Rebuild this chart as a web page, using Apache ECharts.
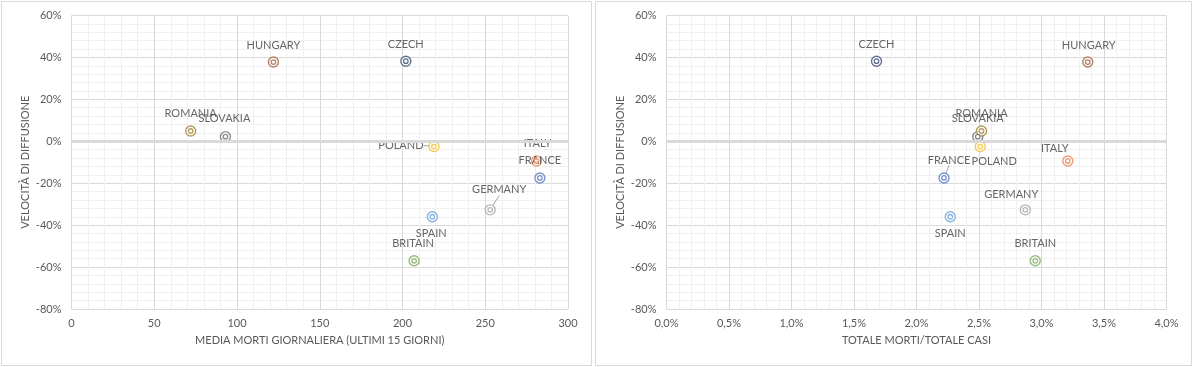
<!DOCTYPE html>
<html>
<head>
<meta charset="utf-8">
<script src="https://cdn.jsdelivr.net/npm/echarts@6/dist/echarts.min.js"></script>
<style>
html,body{margin:0;padding:0;background:#fff;}
#c{width:1194px;height:367px;}
</style>
</head>
<body>
<div id="c"></div>
<script>
// ---- data ----
const countries = ['FRANCE','ITALY','GERMANY','POLAND','SPAIN','BRITAIN','CZECH','HUNGARY','SLOVAKIA','ROMANIA'];
const velocity  = [-0.175, -0.094, -0.327, -0.025, -0.360, -0.570, 0.382, 0.378, 0.022, 0.049];
const avgDeaths = [283, 281, 253, 219, 218, 207, 202, 122, 93, 72];
const deathRate = [0.0222, 0.0321, 0.0287, 0.0251, 0.0227, 0.0295, 0.0168, 0.0337, 0.0249, 0.0252];
const yTicks = [-0.8, -0.6, -0.4, -0.2, 0, 0.2, 0.4, 0.6];
const xTicksLeft = [0, 50, 100, 150, 200, 250, 300];
const xTicksRight = [0, 0.005, 0.01, 0.015, 0.02, 0.025, 0.03, 0.035, 0.04];

// ---- styles ----
const colors = {
  FRANCE:'#5777C0', ITALY:'#E88250', GERMANY:'#A5A5A5', POLAND:'#F0BE30', SPAIN:'#6A9FD6',
  BRITAIN:'#7BAA5C', CZECH:'#3E5075', HUNGARY:'#A0603F', SLOVAKIA:'#6E6E6E', ROMANIA:'#A08433'
};
// label centre offset from marker centre [dx, dy]
const offsLeft = {
  FRANCE:[0,-18], ITALY:[1,-18], GERMANY:[9,-20], POLAND:[-33,-1], SPAIN:[-1,17],
  BRITAIN:[-1,-17], CZECH:[0,-17], HUNGARY:[0,-17], SLOVAKIA:[-1,-18], ROMANIA:[0,-18]
};
const offsRight = {
  FRANCE:[5,-18], ITALY:[-13,-13], GERMANY:[-14,-15], POLAND:[14,15], SPAIN:[0,17],
  BRITAIN:[0,-17], CZECH:[0,-17], HUNGARY:[1,-17], SLOVAKIA:[0,-18], ROMANIA:[0,-18]
};
const FONT = 'Lato';
const TXT = '#595959';

function pct0(v){ return Math.round(v*100) + '%'; }
function pct1(v){ return (v*100).toFixed(1).replace('.', ',') + '%'; }

function outerData(xs, offs){
  return countries.map((c, i) => ({
    name: c,
    value: [xs[i], velocity[i]],
    itemStyle: { color: '#fff', borderColor: colors[c] },
    label: { offset: offs[c] }
  }));
}
function innerData(xs){
  return countries.map((c, i) => ({
    name: c,
    value: [xs[i], velocity[i]],
    itemStyle: { color: '#fff', borderColor: colors[c] }
  }));
}

function xAxis(gi, min, max, interval, fmt, name){
  return {
    gridIndex: gi, type: 'value', min: min, max: max, interval: interval,
    name: name, nameLocation: 'middle', nameGap: 26,
    nameTextStyle: { color: TXT, fontFamily: FONT, fontSize: 11 },
    axisLine: { show: false }, axisTick: { show: false },
    axisLabel: { color: TXT, fontFamily: FONT, fontSize: 11, margin: 9, formatter: fmt, showMinLabel: true, showMaxLabel: true },
    splitLine: { show: true, lineStyle: { color: '#d9d9d9', width: 1 } },
    minorTick: { show: false, splitNumber: 5 },
    minorSplitLine: { show: true, lineStyle: { color: '#f0f0f0', width: 1 } }
  };
}
function yAxis(gi){
  return {
    gridIndex: gi, type: 'value', min: yTicks[0], max: yTicks[yTicks.length-1], interval: 0.2,
    name: 'VELOCITÀ DI DIFFUSIONE', nameLocation: 'middle', nameGap: 41,
    nameTextStyle: { color: TXT, fontFamily: FONT, fontSize: 11 },
    axisLine: { show: false }, axisTick: { show: false },
    axisLabel: { color: TXT, fontFamily: FONT, fontSize: 11, margin: 10, formatter: pct0 },
    splitLine: { show: true, lineStyle: { color: '#d9d9d9', width: 1 } },
    minorTick: { show: false, splitNumber: 5 },
    minorSplitLine: { show: true, lineStyle: { color: '#f0f0f0', width: 1 } }
  };
}

function seriesFor(gi, xs, offs, leaderSet){
  const outer = outerData(xs, offs).map(d => {
    if (leaderSet.indexOf(d.name) >= 0) {
      d.labelLine = { show: true, lineStyle: { color: '#a6a6a6', width: 1 } };
    }
    return d;
  });
  return [
    {
      type: 'scatter', xAxisIndex: gi, yAxisIndex: gi, data: [], silent: true, z: 1,
      markLine: {
        silent: true, symbol: 'none', label: { show: false },
        lineStyle: { color: '#d9d9d9', width: 3, type: 'solid' },
        data: [{ yAxis: 0 }]
      }
    },
    {
      type: 'scatter', xAxisIndex: gi, yAxisIndex: gi, z: 3,
      symbol: 'circle', symbolSize: 10,
      itemStyle: { borderWidth: 1.4 },
      label: {
        show: true, position: 'inside', formatter: '{b}',
        color: '#404040', fontFamily: FONT, fontSize: 11
      },
      labelLine: { show: false },
      data: outer
    },
    {
      type: 'scatter', xAxisIndex: gi, yAxisIndex: gi, z: 4,
      symbol: 'circle', symbolSize: 4.5,
      itemStyle: { borderWidth: 1.3 },
      data: innerData(xs)
    }
  ];
}

const chart = echarts.init(document.getElementById('c'), null, { renderer: 'canvas' });
chart.setOption({
  backgroundColor: '#fff',
  animation: false,
  graphic: [
    { type: 'rect', shape: { x: 1.5, y: 1.5, width: 590, height: 364 }, style: { fill: 'none', stroke: '#d9d9d9', lineWidth: 1 }, z: -1 },
    { type: 'rect', shape: { x: 595.5, y: 1.5, width: 596, height: 364 }, style: { fill: 'none', stroke: '#d9d9d9', lineWidth: 1 }, z: -1 }
  ],
  grid: [
    { left: 71.5, right: 626, top: 15.5, bottom: 58 },
    { left: 666.5, right: 27.5, top: 15.5, bottom: 58 }
  ],
  xAxis: [
    xAxis(0, xTicksLeft[0], xTicksLeft[xTicksLeft.length-1], 50, v => String(v), 'MEDIA MORTI GIORNALIERA (ULTIMI 15 GIORNI)'),
    xAxis(1, xTicksRight[0], xTicksRight[xTicksRight.length-1], 0.005, pct1, 'TOTALE MORTI/TOTALE CASI')
  ],
  yAxis: [ yAxis(0), yAxis(1) ],
  series: [].concat(
    seriesFor(0, avgDeaths, offsLeft, ['POLAND','GERMANY']),
    seriesFor(1, deathRate, offsRight, ['FRANCE'])
  )
});
</script>
</body>
</html>
